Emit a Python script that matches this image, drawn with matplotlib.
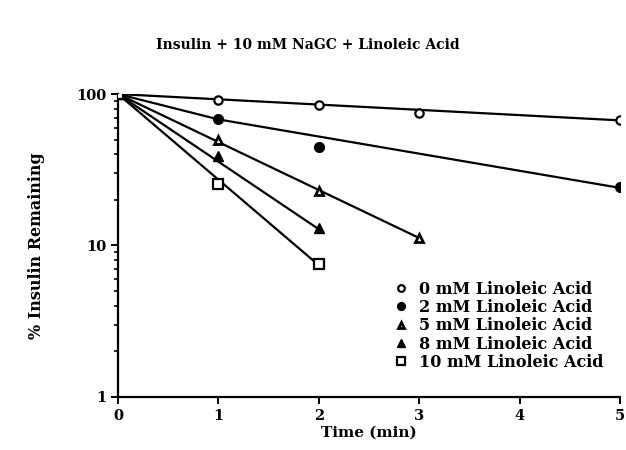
import numpy as np
import matplotlib
matplotlib.use("Agg")
import matplotlib.pyplot as plt
from matplotlib.ticker import LogLocator, NullFormatter

labels = ["0 mM Linoleic Acid", "2 mM Linoleic Acid", "5 mM Linoleic Acid",
          "8 mM Linoleic Acid", "10 mM Linoleic Acid"]
t0 = [0, 1, 2, 3, 5]
y0 = [100, 92, 85, 75, 67]
t2 = [0, 1, 2, 5]
y2 = [100, 68, 45, 24.5]
t5 = [0, 1, 2, 3]
y5 = [100, 50, 23, 11.2]
t8 = [0, 1, 2]
y8 = [100, 39, 13]
t10 = [0, 1, 2]
y10 = [100, 25.5, 7.5]
# fitted curves as drawn in the figure
fit_t0, fit0 = [0, 5], [100, 67]
fit_t2, fit2 = [0, 1, 5], [100, 68, 24]
fit_t5, fit5 = [0, 3], [100, 11.2]
fit_t8, fit8 = [0, 2], [100, 12.8]
fit_t10, fit10 = [0, 2], [100, 7.4]

plt.rcParams['font.family'] = ['DejaVu Serif']
plt.rcParams['font.weight'] = 'bold'

fig = plt.figure(figsize=(6.26, 4.5), dpi=100)
ax = fig.add_axes([0.1885, 0.118, 0.802, 0.673])

series = [(t0, y0, fit_t0, fit0, dict(marker='o', mfc='white', mec='black', ms=6, mew=1.6)),
          (t2, y2, fit_t2, fit2, dict(marker='o', mfc='black', mec='black', ms=7, mew=1)),
          (t5, y5, fit_t5, fit5, dict(marker='^', mfc='white', mec='black', ms=6, mew=2)),
          (t8, y8, fit_t8, fit8, dict(marker='^', mfc='black', mec='black', ms=7, mew=1)),
          (t10, y10, fit_t10, fit10, dict(marker='s', mfc='white', mec='black', ms=6.5, mew=1.6))]

handles = []
for (t, y, ft, f, st), lab in zip(series, labels):
    ax.plot(ft, f, color='black', lw=1.6, zorder=2)
    h, = ax.plot(t, y, ls='none', label=lab, zorder=3, **st)
    handles.append(h)

ax.set_yscale('log')
ax.set_ylim(1, 100)
ax.set_xlim(0, 5)
ax.spines['top'].set_visible(False)
ax.spines['right'].set_visible(False)
ax.spines['left'].set_linewidth(1.6)
ax.spines['bottom'].set_linewidth(1.6)
ax.set_xticks([0, 1, 2, 3, 4, 5])
ax.set_yticks([1, 10, 100])
ax.set_yticklabels(['1', '10', '100'])
ax.yaxis.set_minor_locator(LogLocator(base=10, subs=np.arange(2, 10)))
ax.yaxis.set_minor_formatter(NullFormatter())
ax.tick_params(axis='both', which='major', direction='out', length=5, width=1.4, labelsize=10.5)
ax.tick_params(axis='y', which='minor', direction='out', length=3, width=1.2)

ax.set_xlabel('Time (min)', fontsize=11, fontweight='bold', labelpad=2)
ax.set_ylabel('% Insulin Remaining', fontsize=11.5, fontweight='bold', labelpad=22)
fig.text(0.492, 0.9, 'Insulin + 10 mM NaGC + Linoleic Acid', ha='center', va='center',
         fontsize=10, fontweight='bold')

leg = ax.legend(handles=handles, loc='upper left', bbox_to_anchor=(0.535, 0.41),
                frameon=False, fontsize=11.5, handlelength=0.8, handletextpad=0.7,
                labelspacing=0.08, borderpad=0, markerscale=0.8)

fig.savefig('out.png', dpi=100)
